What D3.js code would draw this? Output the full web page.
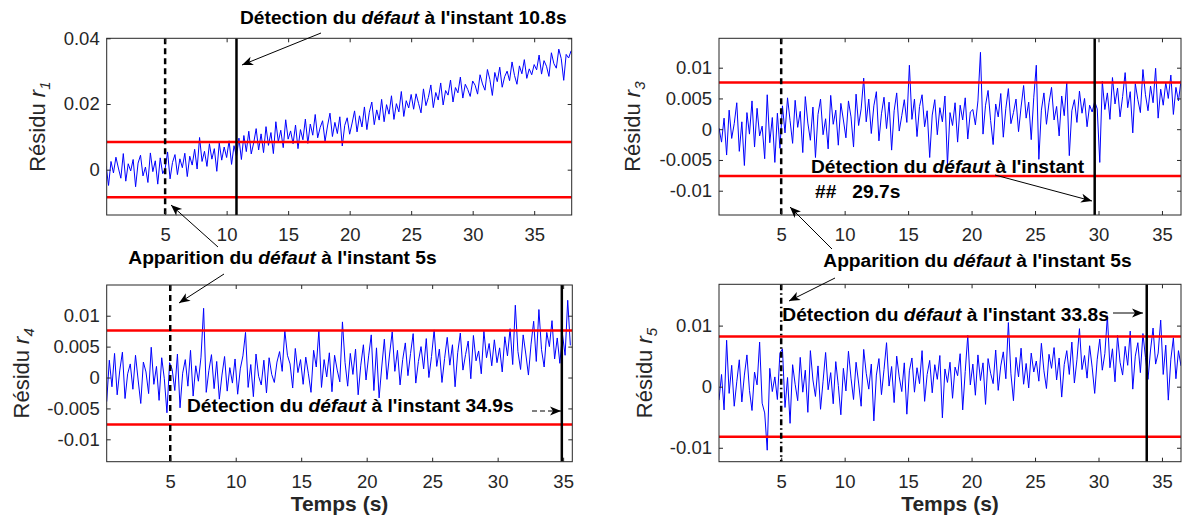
<!DOCTYPE html>
<html>
<head>
<meta charset="utf-8">
<script src="https://cdn.jsdelivr.net/npm/d3@7"></script>
<style>
    body { margin: 0; background: #fff; }
    svg { font-family: "Liberation Sans", Arial, sans-serif; }
    .tick text { fill: #262626; font-size: 18.5px; }
    .tick line { stroke: #262626; }
    .note { font-weight: bold; font-size: 19.2px; fill: #000; }
</style>
</head>
<body>
<div id="chart"></div>
<script>

// residus, en unites de 1e-3, pas de 0.2 s
const dt = 0.2;

// r1 : debut a t = 0.2 s
const r1 = [1.2, -4.8, 2.5, -1.0, 3.8, 0.5, -2.6, 4.9, -3.5, 1.8, -0.4, 3.1, -5.2, 2.0, 4.4, -1.9, 0.8, -3.9, 5.1, -0.6, 2.7, -4.4, 3.6, -1.2, 0.3,
    5.4, -2.8, 2.2, 4.6, -1.5, 3.3, 0.6, 5.0, -2.1, 4.1, 1.4, 6.2, 0.2, 9.8, 2.5, 5.6, 1.0, 7.9, 3.2, 6.4, -0.5, 8.1, 2.9, 6.9, 3.7,
    8.8, 1.6, 7.3, 4.0, 9.6, 3.1, 10.4, 5.5, 11.7, 4.8, 8.2, 12.5, 6.0, 10.9, 5.2, 13.1, 7.4, 11.3, 4.9, 14.6, 8.5, 12.0, 6.7, 15.2, 9.3,
    11.8, 7.9, 13.6, 6.4, 12.2, 9.1, 15.4, 8.0, 13.9, 10.5, 16.8, 9.7, 12.8, 14.9, 8.6, 13.3, 17.2, 10.1, 14.4, 11.0, 16.1, 7.2, 13.5, 15.8, 10.8,
    14.2, 17.9, 11.5, 16.4, 13.0, 19.1, 12.2, 17.5, 20.6, 13.7, 18.2, 15.1, 21.4, 14.6, 19.8, 16.9, 22.5, 15.3, 20.1, 17.6, 23.8, 16.2, 21.0, 18.8, 22.9,
    18.4, 23.1, 20.2, 17.3, 24.6, 19.5, 22.0, 25.8, 18.9, 23.5, 21.2, 26.4, 19.7, 24.1, 22.7, 27.3, 20.6, 25.0, 23.4, 28.2, 21.8, 26.0, 24.4, 22.3, 27.0,
    25.7, 23.0, 28.9, 26.1, 24.2, 30.5, 27.4, 22.6, 29.6, 26.8, 31.2, 25.1, 28.3, 30.0, 27.1, 32.8, 28.7, 26.0, 31.6, 29.2, 33.5, 27.8, 30.7, 28.9, 32.0,
    30.4, 34.9, 29.1, 33.2, 31.5, 28.4, 35.6, 32.3, 30.9, 36.7, 33.8, 27.2, 35.1, 34.0, 36.2];

// r3 : debut a t = 0.1 s
const r3 = [0.2, -2.1, 1.8, -4.2, 3.1, -1.5, 0.9, 4.3, -3.6, 1.2, -5.9, 2.7, -0.8, 4.6, -2.9, 3.4, -1.1, 0.5, -4.8, 5.6, -2.2, 1.9, -5.4, 2.6, -3.1,
    3.8, -0.6, 5.1, 1.4, -2.3, 4.7, 0.3, 2.9, -3.8, 5.3, 1.0, -1.8, 3.6, -4.6, 2.4, 4.9, -0.9, 1.7, -3.2, 5.5, 0.8, 3.1, -2.6, 4.2, 1.5,
    -1.4, 4.6, 2.0, -2.9, 5.7, 0.6, 3.3, 8.3, 1.2, 4.9, -0.7, 3.8, 6.1, -1.9, 2.5, 5.2, 0.1, 4.4, -3.4, 3.0, 5.9, -0.3, 2.2, 4.8, 1.1,
    10.4, 1.6, 4.9, -1.2, 3.7, 5.6, 0.4, 3.0, -4.6, 2.3, 4.8, -0.9, 3.5, 1.2, 5.4, -5.8, 2.7, 0.6, 4.3, -2.1, 3.9, 1.5, 5.1, -1.6, 2.8,
    3.2, 0.7, 4.6, 12.5, -0.8, 3.9, 6.3, 1.4, -2.5, 4.1, 2.0, 5.8, -1.3, 3.4, 6.6, 0.9, 2.7, 4.9, -0.4, 3.6, 7.1, 1.8, 4.4, -1.7, 5.2,
    10.4, -4.9, 3.1, 5.9, 0.8, 4.3, 6.8, 1.5, 3.7, -1.1, 5.4, 2.2, 7.6, -4.3, 3.0, 4.8, 1.1, 6.2, 2.6, 5.0, 0.4, 3.9, 2.8, 4.5, 3.3,
    -5.4, 7.8, 3.2, 5.9, 1.6, 8.4, 4.1, 6.7, 2.0, 5.3, 9.2, 3.5, 6.1, -0.6, 7.4, 4.8, 2.7, 9.7, 5.6, 3.0, 7.0, 4.3, 9.9, 1.8, 6.5,
    3.9, 7.6, 5.0, 8.8, 2.4, 6.8, 4.6, 7.9];

// r4 : debut a t = 0.15 s
const r4 = [-3.9, 2.8, -1.5, 3.9, -2.8, 1.2, 4.1, -3.4, 0.6, 2.2, -1.9, 3.6, -0.4, -4.2, 2.5, 0.9, -2.6, 4.9, -1.1, 1.8, -3.7, 3.2, -0.2, -5.7, 2.4,
    1.3, -2.1, 3.8, -4.9, 0.7, 2.9, -1.4, 4.4, -3.0, 1.9, -0.6, 3.3, 11.2, -2.4, 1.1, 3.7, -1.8, 2.6, -3.5, 0.4, 3.4, -2.2, 1.6, -0.9, 3.0,
    -2.7, 1.4, 3.5, 7.3, -1.6, 2.1, -3.1, 3.8, 0.2, -1.2, 2.8, -2.5, 3.2, 0.5, -0.8, 2.5, 4.2, 1.0, 7.6, 3.6, 2.2, -1.7, 4.7, 0.8, 2.9,
    -1.1, 3.3, 0.6, -2.4, 4.4, 1.7, 7.6, -1.6, 2.9, 0.1, 4.0, -2.3, 3.6, 1.2, -0.7, 9.0, 2.4, -1.4, 3.9, 0.5, 4.6, -2.8, 2.0, 5.3, -0.4,
    3.5, 6.9, -2.1, 4.8, -3.3, 1.7, 6.2, -0.3, 3.8, 7.4, 1.0, 4.4, -1.2, 2.9, 5.6, 0.3, 3.9, 7.1, -0.9, 2.6, 5.0, 1.4, 6.3, 0.0, 3.4,
    7.7, 1.8, 4.6, -0.8, 3.1, 6.5, 2.0, 5.3, -1.5, 4.0, 7.2, 1.2, 3.7, 5.9, -0.2, 6.8, 2.7, 4.3, 0.6, 7.5, 3.2, 5.5, 1.9, 6.1, 2.4,
    4.8, 0.9, 6.6, 3.5, 7.9, 2.1, 11.7, 4.2, 1.3, 6.9, 3.8, 0.4, 5.4, 9.1, 2.6, 11.0, 4.5, 1.7, 7.3, 5.0, 9.2, 3.0, 6.4, 2.3, 7.0,
    3.6, 12.5, 5.2];

// r5 : debut a t = 0.1 s
const r5 = [-2.2, 2.0, -3.8, 7.6, -1.1, 3.5, -3.2, 0.8, 4.4, -2.5, 1.9, 5.2, -0.6, -3.9, 2.4, 0.3, 7.3, -2.7, -4.3, -10.4, 3.0, -0.8, 1.6, -2.1, 5.5,
    6.2, -3.4, 1.5, -6.0, 3.6, 0.4, -2.3, 4.8, -0.9, 2.7, -4.2, 5.9, 1.1, -1.6, 3.4, -3.7, 0.9, 5.6, -0.5, 2.3, -2.8, 4.1, 0.2, -4.6, 3.0,
    -0.7, 5.8, 1.4, -2.1, 4.0, 0.6, -3.2, 6.1, 2.2, -0.4, 3.7, -5.6, 1.9, 4.6, -1.3, 2.8, 7.2, 0.1, 3.3, -2.6, 5.0, 1.6, -0.8, 3.9, -4.5,
    2.6, 4.7, -0.9, 3.1, 0.5, 5.9, -2.4, 2.0, 4.3, -1.0, 3.6, 1.2, 5.1, -5.1, 2.9, 0.7, 4.0, -1.9, 3.2, 1.8, 5.4, -3.8, 2.5, 8.4, 0.3,
    3.7, -1.4, 5.2, 1.0, 3.9, -2.9, 4.6, 2.2, 0.5, 6.0, -0.6, 3.4, 5.7, 1.3, 10.5, 2.1, -2.3, 4.8, 1.6, 6.3, 0.4, 3.8, -0.2, 5.5, 2.4,
    4.2, 0.9, 7.1, 2.6, -0.3, 5.3, 3.0, 6.4, 1.1, 4.7, -1.7, 3.6, 5.9, 2.0, 7.3, 0.6, 4.4, 9.5, 2.8, 5.1, 1.4, 6.7, 3.2, -1.1, 4.5,
    7.8, 2.7, 5.4, 11.6, 3.1, 6.2, 0.8, 8.4, 4.0, 1.9, 6.6, 3.5, 9.1, -0.4, 5.0, 7.2, 2.3, 8.7, 4.8, 1.2, 6.0, 9.6, 3.7, 5.5, 10.9,
    2.0, 6.8, -2.2, 4.5, 8.0, 1.3, 5.9, 3.4];

const xTicks = [5, 10, 15, 20, 25, 30, 35];
const yTicks1 = [0, 0.02, 0.04];
const yTicksFin = [-0.01, -0.005, 0, 0.005, 0.01];
const yTicks5 = [-0.01, 0, 0.01];

const tApparition = 5;
const tDetection = [10.8, 29.7, 34.9, 33.8];
const seuils = [0.0084, 0.0076, 0.0076, 0.0082];

const panels = [
    { id: 'p1', values: r1, t0: 0.2, sub: '1', left: 106.7, right: 571.7, top: 38.3, bottom: 215,
      xDomain: [0.25, 38.05], yDomain: [-0.0138, 0.04], yTicks: yTicks1, seuil: seuils[0], tDet: tDetection[0],
      faultDash: '6,4', labelX: 45, xLabel: false },
    { id: 'p2', values: r3, t0: 0.1, sub: '3', left: 719, right: 1181, top: 38.3, bottom: 215,
      xDomain: [0.1, 36.5], yDomain: [-0.01395, 0.01478], yTicks: yTicksFin, seuil: seuils[1], tDet: tDetection[1],
      faultDash: '6,4', labelX: 640, xLabel: false },
    { id: 'p3', values: r4, t0: 0.15, sub: '4', left: 106.7, right: 572.3, top: 285, bottom: 461.7,
      xDomain: [0.15, 35.7], yDomain: [-0.01362, 0.01497], yTicks: yTicksFin, seuil: seuils[2], tDet: tDetection[2],
      faultDash: '6,4', labelX: 28.5, xLabel: true },
    { id: 'p4', values: r5, t0: 0.1, sub: '5', left: 719, right: 1181, top: 284.3, bottom: 461.7,
      xDomain: [0.1, 36.5], yDomain: [-0.01228, 0.01676], yTicks: yTicks5, seuil: seuils[3], tDet: tDetection[3],
      faultDash: '6,3,1.5,3', labelX: 652, xLabel: true }
];

const svg = d3.select('#chart').append('svg')
    .attr('width', 1182)
    .attr('height', 521);

const defs = svg.append('defs');
defs.append('marker')
    .attr('id', 'tete')
    .attr('viewBox', '-12 -6 14 12')
    .attr('refX', 0)
    .attr('refY', 0)
    .attr('markerWidth', 14)
    .attr('markerHeight', 12)
    .attr('markerUnits', 'userSpaceOnUse')
    .attr('orient', 'auto')
    .append('path')
    .attr('d', 'M0,0 L-11,-4.5 L-8,0 L-11,4.5 Z')
    .attr('fill', '#000');

function fmt(d) { return String(d); }

panels.forEach(function(p) {

    let x = d3.scaleLinear().domain(p.xDomain).range([p.left, p.right]);
    let y = d3.scaleLinear().domain(p.yDomain).range([p.bottom, p.top]);

    defs.append('clipPath').attr('id', 'clip-' + p.id)
        .append('rect')
        .attr('x', p.left).attr('y', p.top)
        .attr('width', p.right - p.left).attr('height', p.bottom - p.top);

    let g = svg.append('g');
    let plot = g.append('g').attr('clip-path', 'url(#clip-' + p.id + ')');

    let line = d3.line()
        .x(function(d, i) { return x(p.t0 + i * dt); })
        .y(function(d) { return y(d * 1e-3); });

    plot.append('path')
        .datum(p.values)
        .attr('d', line)
        .attr('fill', 'none')
        .attr('stroke', '#0000ff')
        .attr('stroke-width', 1);

    // seuils
    [p.seuil, -p.seuil].forEach(function(s) {
        plot.append('line')
            .attr('x1', p.left).attr('x2', p.right)
            .attr('y1', y(s)).attr('y2', y(s))
            .attr('stroke', '#ff0000')
            .attr('stroke-width', 2.5);
    });

    // apparition du defaut
    plot.append('line')
        .attr('x1', x(tApparition)).attr('x2', x(tApparition))
        .attr('y1', p.top).attr('y2', p.bottom)
        .attr('stroke', '#000')
        .attr('stroke-width', 2.5)
        .attr('stroke-dasharray', p.faultDash);

    // detection
    plot.append('line')
        .attr('x1', x(p.tDet)).attr('x2', x(p.tDet))
        .attr('y1', p.top).attr('y2', p.bottom)
        .attr('stroke', '#000')
        .attr('stroke-width', 2.5);

    // axes, ticks vers l'interieur sur les 4 cotes
    let ax = [
        g.append('g').attr('transform', 'translate(0,' + p.bottom + ')')
            .call(d3.axisBottom(x).tickValues(xTicks).tickFormat(fmt).tickSizeInner(-4).tickSizeOuter(0).tickPadding(13)),
        g.append('g').attr('transform', 'translate(0,' + p.top + ')')
            .call(d3.axisTop(x).tickValues(xTicks).tickFormat('').tickSizeInner(-4).tickSizeOuter(0)),
        g.append('g').attr('transform', 'translate(' + p.left + ',0)')
            .call(d3.axisLeft(y).tickValues(p.yTicks).tickFormat(fmt).tickSizeInner(-4).tickSizeOuter(0).tickPadding(7)),
        g.append('g').attr('transform', 'translate(' + p.right + ',0)')
            .call(d3.axisRight(y).tickValues(p.yTicks).tickFormat('').tickSizeInner(-4).tickSizeOuter(0))
    ];
    ax.forEach(function(a) {
        a.select('.domain').remove();
        a.selectAll('text').attr('font-family', null).attr('font-size', null);
    });

    g.append('rect')
        .attr('x', p.left).attr('y', p.top)
        .attr('width', p.right - p.left).attr('height', p.bottom - p.top)
        .attr('fill', 'none')
        .attr('stroke', '#262626')
        .attr('stroke-width', 1);

    // label y
    let yl = g.append('text')
        .attr('transform', 'translate(' + p.labelX + ',' + (p.top + p.bottom) / 2 + ') rotate(-90)')
        .attr('text-anchor', 'middle')
        .attr('fill', '#262626')
        .style('font-size', '22px');
    yl.append('tspan').text('Résidu ');
    yl.append('tspan').style('font-style', 'italic').text('r');
    yl.append('tspan').style('font-style', 'italic').style('font-size', '15px').attr('dy', '0.35em').text(p.sub);

    if (p.xLabel) {
        g.append('text')
            .attr('x', (p.left + p.right) / 2)
            .attr('y', 511)
            .attr('text-anchor', 'middle')
            .attr('fill', '#262626')
            .style('font-size', '21px')
            .style('font-weight', 'bold')
            .text('Temps (s)');
    }
});

// annotations (coordonnees de la figure)
const notes = [
    { x: 240, y: 24, a: 'Détection du ', b: 'défaut', c: " à l'instant 10.8s" },
    { x: 128.3, y: 264, a: 'Apparition du ', b: 'défaut', c: " à l'instant 5s" },
    { x: 811, y: 173, a: 'Détection du ', b: 'défaut', c: " à l'instant" },
    { x: 823.3, y: 267, a: 'Apparition du ', b: 'défaut', c: " à l'instant 5s" },
    { x: 187, y: 412, a: 'Détection du ', b: 'défaut', c: " à l'instant 34.9s" },
    { x: 782.3, y: 321, a: 'Détection du ', b: 'défaut', c: " à l'instant 33.8s" }
];

notes.forEach(function(n) {
    let t = svg.append('text').attr('class', 'note').attr('x', n.x).attr('y', n.y);
    t.append('tspan').text(n.a);
    t.append('tspan').style('font-style', 'italic').text(n.b);
    t.append('tspan').text(n.c);
});

svg.append('text')
    .attr('class', 'note')
    .attr('x', 815).attr('y', 198)
    .style('white-space', 'pre')
    .text('##   29.7s');

const fleches = [
    { x1: 321, y1: 33, x2: 242, y2: 65 },
    { x1: 218, y1: 247, x2: 171, y2: 205 },
    { x1: 224, y1: 274, x2: 179, y2: 303 },
    { x1: 995, y1: 175, x2: 1092, y2: 201 },
    { x1: 832, y1: 249, x2: 790, y2: 207 },
    { x1: 835, y1: 278, x2: 789, y2: 301 },
    { x1: 532, y1: 411, x2: 561, y2: 411, dash: '5,3' },
    { x1: 1113, y1: 313, x2: 1143, y2: 313 }
];

svg.append('g').selectAll('line')
    .data(fleches)
    .enter()
    .append('line')
    .attr('x1', function(d) { return d.x1; })
    .attr('y1', function(d) { return d.y1; })
    .attr('x2', function(d) { return d.x2; })
    .attr('y2', function(d) { return d.y2; })
    .attr('stroke', '#000')
    .attr('stroke-width', 1)
    .attr('stroke-dasharray', function(d) { return d.dash || null; })
    .attr('marker-end', 'url(#tete)');

</script>
</body>
</html>
